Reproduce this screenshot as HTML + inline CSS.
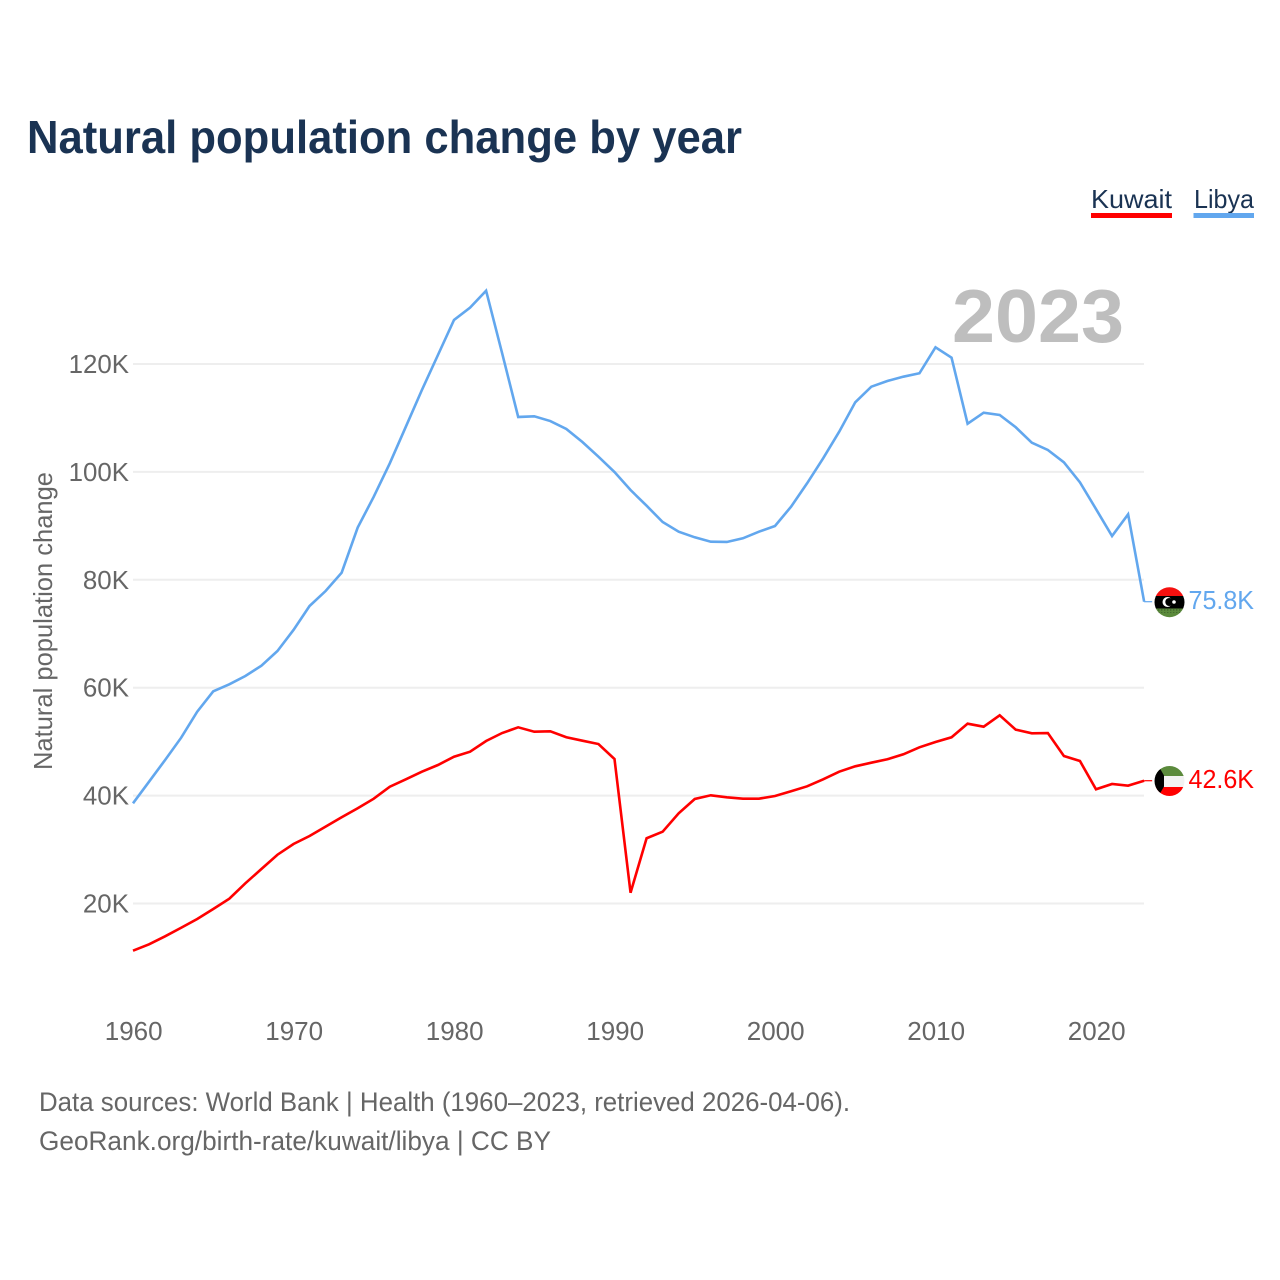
<!DOCTYPE html>
<html lang="en">
<head>
<meta charset="utf-8">
<title>Natural population change by year</title>
<style>
html,body{margin:0;padding:0;background:#fff;}
svg{display:block;font-family:"Liberation Sans",sans-serif;}
.tick{font-size:26px;fill:#666;}
.foot{font-size:26.5px;fill:#666;}
.leg{font-size:26px;fill:#1a3353;}
</style>
</head>
<body>
<svg id="chart" xmlns="http://www.w3.org/2000/svg" width="1280" height="1280" viewBox="0 0 1280 1280">
  <defs>
    <clipPath id="clip-libya"><circle cx="1169.5" cy="602.2" r="15"/></clipPath>
    <clipPath id="clip-kuwait"><circle cx="1169.5" cy="781" r="15"/></clipPath>
    <pattern id="dots" width="3" height="3" patternUnits="userSpaceOnUse"><rect width="1.4" height="1.4" fill="#2f4a22"/></pattern>
  </defs>
  <rect width="1280" height="1280" fill="#fff"/>
  <text x="27" y="153" font-size="46" font-weight="700" fill="#1a3353" textLength="715" lengthAdjust="spacingAndGlyphs">Natural population change by year</text>

  <g>
    <text class="leg" x="1091" y="208" textLength="81" lengthAdjust="spacingAndGlyphs">Kuwait</text>
    <rect x="1091" y="213" width="81" height="5" fill="#ff0000"/>
  </g>
  <g>
    <text class="leg" x="1194" y="208" textLength="60" lengthAdjust="spacingAndGlyphs">Libya</text>
    <rect x="1193.500" y="213" width="60.500" height="5" fill="#62a7ee"/>
  </g>

  <text class="tick" transform="translate(52,770) rotate(-90)" x="0" y="0" textLength="298" lengthAdjust="spacingAndGlyphs">Natural population change</text>

  <g id="grid"></g>
  <g id="yticks"></g>
  <g id="xticks"></g>

  <text x="952" y="342" font-size="75" font-weight="700" fill="#bebebe" textLength="172" lengthAdjust="spacingAndGlyphs">2023</text>

  <g id="series"></g>

  <g clip-path="url(#clip-libya)">
    <rect x="1154" y="586" width="32" height="10" fill="#f5100f"/>
    <rect x="1154" y="596" width="32" height="12.500" fill="#000"/>
    <rect x="1154" y="608.500" width="32" height="10" fill="#5b8a3c"/>
    <rect x="1158" y="609.500" width="24" height="3" fill="url(#dots)"/>
    <circle cx="1167.500" cy="602" r="5" fill="#fff"/>
    <circle cx="1169.300" cy="602" r="4" fill="#000"/>
    <circle cx="1174" cy="602" r="1.800" fill="#fff"/>
  </g>
  <g clip-path="url(#clip-kuwait)">
    <rect x="1154" y="765" width="32" height="11" fill="#5b8a3c"/>
    <rect x="1154" y="776" width="32" height="11" fill="#f2f2f2"/>
    <rect x="1154" y="787" width="32" height="11" fill="#ff0000"/>
    <polygon points="1154,765 1158,765 1164,775.500 1164,786.500 1158,797 1154,797" fill="#000"/>
  </g>

  <g id="endlabels"></g>

  <text class="foot" x="39" y="1111" textLength="811" lengthAdjust="spacingAndGlyphs">Data sources: World Bank | Health (1960–2023, retrieved 2026-04-06).</text>
  <text class="foot" x="39" y="1150" textLength="512" lengthAdjust="spacingAndGlyphs">GeoRank.org/birth-rate/kuwait/libya | CC BY</text>
</svg>
<script>
const startYear = 1960;
const xTickYears = [1960, 1970, 1980, 1990, 2000, 2010, 2020];
const yTickValues = [20, 40, 60, 80, 100, 120];
const kuwait = [
  11.25, 12.44, 13.92, 15.51, 17.13, 18.98, 20.89, 23.74, 26.4, 29.04,
  31.03, 32.51, 34.24, 35.98, 37.65, 39.43, 41.65, 43.02, 44.43, 45.67,
  47.21, 48.14, 50.12, 51.6, 52.66, 51.84, 51.92, 50.81, 50.18, 49.56,
  46.78, 22.0, 32.09, 33.31, 36.72, 39.37, 40.06, 39.68, 39.43, 39.43,
  39.93, 40.8, 41.72, 43.02, 44.43, 45.43, 46.1, 46.73, 47.66, 48.95,
  49.94, 50.81, 53.33, 52.77, 54.88, 52.22, 51.55, 51.6, 47.34, 46.41,
  41.17, 42.15, 41.84, 42.76
];
const libya = [
  38.57, 42.58, 46.6, 50.73, 55.55, 59.33, 60.63, 62.17, 64.08, 66.8,
  70.7, 75.14, 77.92, 81.32, 89.69, 95.4, 101.59, 108.38, 115.18, 121.67,
  128.16, 130.44, 133.59, 121.98, 110.18, 110.31, 109.43, 107.95, 105.54, 102.82,
  99.98, 96.64, 93.73, 90.71, 88.92, 87.88, 87.06, 87.01, 87.69, 88.92,
  89.97, 93.55, 97.89, 102.52, 107.45, 112.9, 115.79, 116.85, 117.65, 118.28,
  123.1, 121.17, 108.93, 110.97, 110.55, 108.27, 105.41, 104.06, 101.78, 98.07,
  93.12, 88.12, 92.14, 75.94
];
const kuwaitEndLabel = "42.6K";
const libyaEndLabel = "75.8K";

const NS = "http://www.w3.org/2000/svg";
function xScale(year) { return 133 + (year - 1960) * 16.05; }
function yScale(v) { return 364 + (120 - v) * 5.395; }
function make(tag, parent, attrs, text) {
  const el = document.createElementNS(NS, tag);
  for (const k in attrs) el.setAttribute(k, attrs[k]);
  if (text !== undefined) el.textContent = text;
  parent.appendChild(el);
  return el;
}
const grid = document.getElementById("grid");
const yticks = document.getElementById("yticks");
const xticks = document.getElementById("xticks");
const series = document.getElementById("series");
const endlabels = document.getElementById("endlabels");

yTickValues.forEach(function (v) {
  const line = make("line", grid, { x1: 133, x2: 1144, y1: yScale(v), y2: yScale(v), stroke: "#eeeeee", "stroke-width": 2 });
  
  
  const label = make("text", yticks, { x: 129, y: yScale(v) + 9, "text-anchor": "end", "class": "tick", textLength: (String(v).length * 14.3 + 17.5), lengthAdjust: "spacingAndGlyphs" }, v + "K");
  
  
});

xTickYears.forEach(function (yr) {
  const label = make("text", xticks, { x: xScale(yr) + 0.7, y: 1040, "text-anchor": "middle", "class": "tick" }, String(yr));
  
  
});

function linePoints(values) {
  return values.map(function (v, i) {
    return xScale(startYear + i).toFixed(2) + "," + yScale(v).toFixed(2);
  }).join(" ");
}

const libyaLine = make("polyline", series, { points: linePoints(libya), fill: "none", stroke: "#62a7ee", "stroke-width": 2.6, "stroke-linejoin": "miter" });



const kuwaitLine = make("polyline", series, { points: linePoints(kuwait), fill: "none", stroke: "#ff0000", "stroke-width": 2.6, "stroke-linejoin": "miter" });



const libyaLast = libya[libya.length - 1];
const kuwaitLast = kuwait[kuwait.length - 1];
const lastX = xScale(startYear + libya.length - 1);

const libyaStub = make("line", series, { x1: lastX, x2: lastX + 8, y1: yScale(libyaLast), y2: yScale(libyaLast), stroke: "#62a7ee", "stroke-width": 1.2 });



const kuwaitStub = make("line", series, { x1: lastX, x2: lastX + 8, y1: yScale(kuwaitLast), y2: yScale(kuwaitLast), stroke: "#ff0000", "stroke-width": 1.2 });



const libyaValue = make("text", endlabels, { x: 1188.5, y: yScale(libyaLast) + 7.5, "font-size": 26, fill: "#62a7ee", textLength: 65.5, lengthAdjust: "spacingAndGlyphs" }, libyaEndLabel);



const kuwaitValue = make("text", endlabels, { x: 1188.5, y: yScale(kuwaitLast) + 7.5, "font-size": 26, fill: "#ff0000", textLength: 65.5, lengthAdjust: "spacingAndGlyphs" }, kuwaitEndLabel);


</script>
</body>
</html>
